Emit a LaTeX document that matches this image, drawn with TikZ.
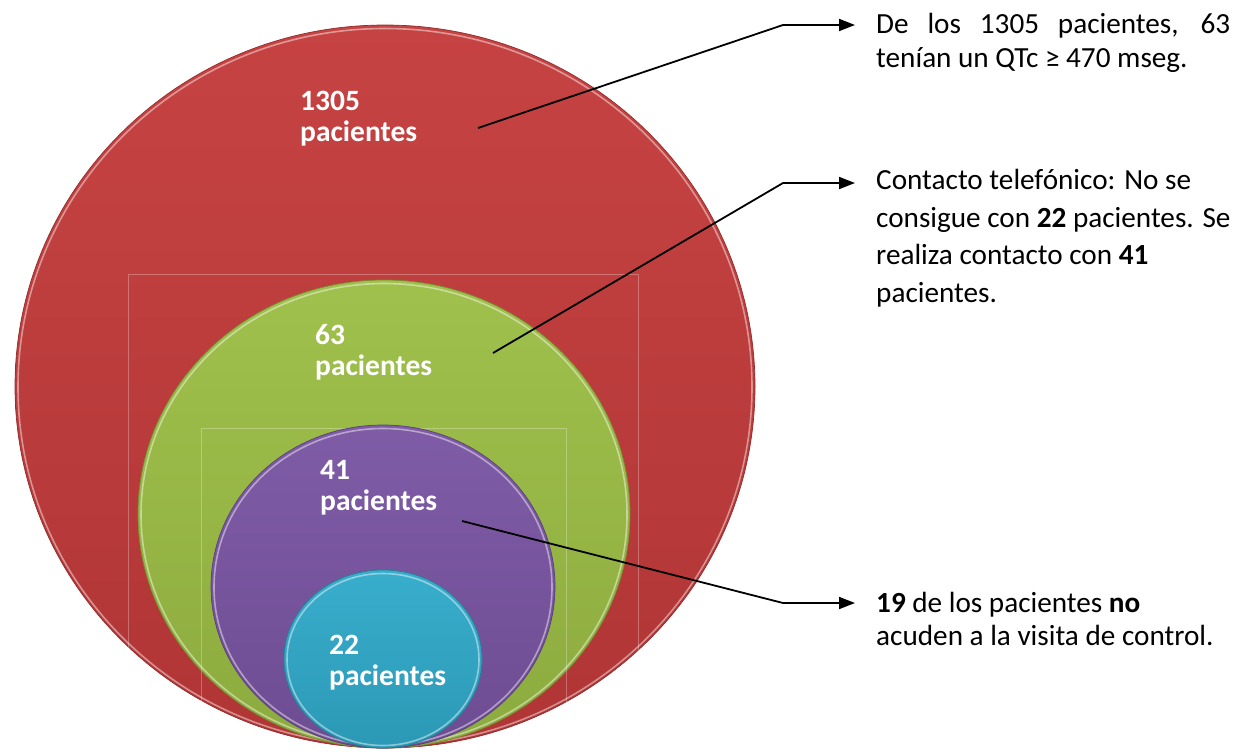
\documentclass[tikz,border=0pt]{standalone}
\usepackage{fontspec}
\setmainfont{Carlito}
\usetikzlibrary{arrows.meta,positioning,calc,shapes.geometric}
\definecolor{rojo}{HTML}{C43B3B}
\definecolor{verde}{HTML}{9CBE45}
\definecolor{lila}{HTML}{7A55A3}
\definecolor{cian}{HTML}{30AACA}

\begin{document}
\begin{tikzpicture}[x=1pt, y=-1pt,
  font=\fontsize{29.2}{34}\selectfont,
  disc/.style={ellipse, inner sep=0pt, draw=#1!75!black, line width=0.7pt,
    top color=#1!96!white, bottom color=#1!90!black},
  rim/.style={ellipse, inner sep=0pt, draw=white, draw opacity=0.45, line width=1.6pt},
  num/.style={font=\fontsize{29.5}{31}\selectfont\bfseries, text=white, align=left,
    inner sep=0pt, anchor=base west},
  txt/.style={anchor=base west, inner sep=0pt, align=left},
  arr/.style={-{Triangle[length=16pt, width=12pt]}, line width=1.8pt},
  ghost/.style={draw=white, draw opacity=0.28, line width=0.6pt}
]
\useasboundingbox (0,0) rectangle (1234,753);
% nested circles
\node[disc=rojo, minimum width=740pt, minimum height=723pt] (c1305) at (385,386.5) {};
\node[rim, minimum width=734pt, minimum height=717pt] at (385,387) {};
\draw[ghost] (128,753) -- (128,274) -- (638,274) -- (638,753);
\node[disc=verde, minimum width=492pt, minimum height=468pt] (c63) at (384,514) {};
\node[rim, minimum width=486pt, minimum height=462pt] at (384,514.5) {};
\draw[ghost] (201,753) -- (201,428) -- (566,428) -- (566,753);
\node[disc=lila, minimum width=344pt, minimum height=323pt] (c41) at (383,586.5) {};
\node[rim, minimum width=338pt, minimum height=317pt] at (383,587) {};
\node[disc=cian, minimum width=198pt, minimum height=178pt] (c22) at (383,659) {};
\node[rim, minimum width=192pt, minimum height=172pt] at (383,659.5) {};
% labels in the circles (anchored on the last line)
\node[num] (l1305) at (300,141) {1305\\pacientes};
\node[num] (l63) at (315,375) {63\\pacientes};
\node[num] (l41) at (320,510) {41\\pacientes};
\node[num] (l22) at (329,685) {22\\pacientes};
% texts
\node[txt] (t1) at (876,67) {\makebox[354pt][s]{De los 1305 pacientes, 63}\\
  tenían un QTc ≥ 470 mseg.};
\node[txt, font=\fontsize{29.2}{37.5}\selectfont] (t2) at (876,302) {Contacto telefónico: No se\\
  consigue con \textbf{22} pacientes. Se\\realiza contacto con \textbf{41}\\pacientes.};
\node[txt, font=\fontsize{29.2}{33}\selectfont] (t3) at (876,645) {\textbf{19} de los pacientes \textbf{no}\\
  acuden a la visita de control.};
% connectors
\coordinate (p1) at (478,128);
\coordinate (b1) at (783,25);
\coordinate (p2) at (493,353);
\coordinate (b2) at (783,183);
\coordinate (p3) at (462,521);
\coordinate (b3) at (783,603);
\draw[arr] (p1) -- (b1) -- ($(b1 -| t1.west)+(-21,0)$);
\draw[arr] (p2) -- (b2) -- ($(b2 -| t2.west)+(-21,0)$);
\draw[arr] (p3) -- (b3) -- ($(b3 -| t3.west)+(-21,0)$);
\end{tikzpicture}
\end{document}
